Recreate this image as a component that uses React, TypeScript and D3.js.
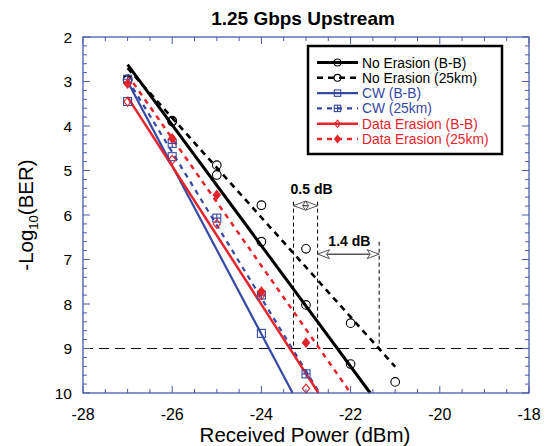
import React from 'react';
import * as d3 from 'd3';

// BER measurements, -log10(BER) vs received power (dBm)
const powerAxis = [-27, -26, -25, -24, -23, -22, -21];

const noErasionBB = [2.97, 3.9, 5.1, 6.6, 8.02, 9.35, null];
const noErasion25 = [2.95, 3.88, 4.88, 5.78, 6.76, 8.43, 9.75];
const cwBB = [3.45, 4.69, null, 8.66, null, null, null];
const cw25 = [2.95, 4.39, 6.07, 7.8, 9.57, null, null];
const dataErasionBB = [3.45, 4.76, 6.2, 7.8, 9.9, null, null];
const dataErasion25 = [3.05, 4.28, 5.55, 7.72, 8.87, null, null];

// fitted lines: [x0, y0, x1, y1]
const noErasionBBFit = [-27, 2.62, -21.56, 10];
const noErasion25Fit = [-27, 2.7, -21, 9.41];
const cwBBFit = [-27, 3.0, -23.3, 10];
const cw25Fit = [-27, 2.95, -22.7, 10];
const dataErasionBBFit = [-27, 3.35, -22.72, 10];
const dataErasion25Fit = [-27, 2.85, -22.0, 10];

const xTicks = [-28, -26, -24, -22, -20, -18];
const yTicks = [2, 3, 4, 5, 6, 7, 8, 9, 10];
const berThreshold = 9;

// power penalty annotations
const penaltyMarks = [-23.28, -22.74, -21.36];
const penaltyLabels = ['0.5 dB', '1.4 dB'];

const BLACK = '#000';
const BLUE = '#3548a3';
const RED = '#e5242b';
const AXIS = '#4a5aa8';
const FONT = '"Liberation Sans", Arial, Helvetica, sans-serif';

const series = [
  { name: 'No Erasion (B-B)', color: BLACK, dash: null, marker: 'circle', values: noErasionBB, fit: noErasionBBFit, width: 3 },
  { name: 'No Erasion (25km)', color: BLACK, dash: '6,5', marker: 'circle', values: noErasion25, fit: noErasion25Fit, width: 2.6 },
  { name: 'CW (B-B)', color: BLUE, dash: null, marker: 'square', values: cwBB, fit: cwBBFit, width: 2.2 },
  { name: 'CW (25km)', color: BLUE, dash: '5,5', marker: 'squarePlus', values: cw25, fit: cw25Fit, width: 2.2 },
  { name: 'Data Erasion (B-B)', color: RED, dash: null, marker: 'diamond', values: dataErasionBB, fit: dataErasionBBFit, width: 2.5 },
  { name: 'Data Erasion (25km)', color: RED, dash: '5,5', marker: 'diamondFilled', values: dataErasion25, fit: dataErasion25Fit, width: 2.5 },
];

const x = d3.scaleLinear().domain([-28, -18]).range([83, 529]);
const y = d3.scaleLinear().domain([2, 10]).range([37, 393]);

function Marker({ type, cx, cy, color, s = 1 }: { type: string; cx: number; cy: number; color: string; s?: number }) {
  if (type === 'circle') return <circle cx={cx} cy={cy} r={4.3 * s} fill="none" stroke={color} strokeWidth={1.1} />;
  if (type === 'square' || type === 'squarePlus') {
    const h = 4 * s;
    return (
      <g stroke={color} strokeWidth={1.1} fill="none">
        <rect x={cx - h} y={cy - h} width={2 * h} height={2 * h} />
        {type === 'squarePlus' && <path d={`M${cx - h},${cy}H${cx + h}M${cx},${cy - h}V${cy + h}`} />}
      </g>
    );
  }
  const h = 4.5 * s;
  const d = `M${cx},${cy - h}L${cx + h * 0.8},${cy}L${cx},${cy + h}L${cx - h * 0.8},${cy}Z`;
  return <path d={d} fill={type === 'diamondFilled' ? color : 'none'} stroke={color} strokeWidth={1.1} />;
}

function DoubleArrow({ x1, x2, yy }: { x1: number; x2: number; yy: number }) {
  const hl = 12, hw = 4.5;
  return (
    <g stroke="#555" fill="white" strokeWidth={1}>
      <line x1={x1} x2={x2} y1={yy} y2={yy} strokeWidth={1.5} />
      <path d={`M${x1},${yy}L${x1 + hl},${yy - hw}L${x1 + hl - 3},${yy}L${x1 + hl},${yy + hw}Z`} />
      <path d={`M${x2},${yy}L${x2 - hl},${yy - hw}L${x2 - hl + 3},${yy}L${x2 - hl},${yy + hw}Z`} />
    </g>
  );
}

export default function App() {
  const [x0, x1] = x.range();
  const [y0, y1] = y.range();
  const xMinor = d3.range(-28, -17.99, 0.5);
  const yMinor = d3.range(2, 10.01, 0.2);

  const legendX = 308, legendY = 46;
  const rowH = 15.3;

  return (
    <svg width={547} height={446} style={{ position: 'absolute', left: 0, top: 0, background: 'white' }} fontFamily={FONT}>
      <text x={303} y={25} textAnchor="middle" fontSize={19} fontWeight="bold">1.25 Gbps Upstream</text>

      {/* threshold */}
      <line x1={x0} x2={x1} y1={y(berThreshold)} y2={y(berThreshold)} stroke="#000" strokeWidth={1} strokeDasharray="10,6" />

      {/* penalty guides */}
      <g stroke="#000" strokeWidth={1} strokeDasharray="4,3">
        <line x1={x(penaltyMarks[0])} x2={x(penaltyMarks[0])} y1={y(5.7)} y2={y(berThreshold)} />
        <line x1={x(penaltyMarks[1])} x2={x(penaltyMarks[1])} y1={y(5.7)} y2={y(berThreshold)} />
        <line x1={x(penaltyMarks[2])} x2={x(penaltyMarks[2])} y1={y(6.6)} y2={y(berThreshold)} />
      </g>
      <DoubleArrow x1={x(penaltyMarks[0])} x2={x(penaltyMarks[1])} yy={y(5.79)} />
      <DoubleArrow x1={x(penaltyMarks[1])} x2={x(penaltyMarks[2])} yy={y(6.88)} />
      <text x={x((penaltyMarks[0] + penaltyMarks[1]) / 2) + 6} y={y(5.53)} textAnchor="middle" fontSize={14} fontWeight="bold">{penaltyLabels[0]}</text>
      <text x={x((penaltyMarks[1] + penaltyMarks[2]) / 2) + 1} y={y(6.7)} textAnchor="middle" fontSize={14} fontWeight="bold">{penaltyLabels[1]}</text>

      {/* fitted lines */}
      {series.map((s) => (
        <line key={s.name + 'fit'} x1={x(s.fit[0])} y1={y(s.fit[1])} x2={x(s.fit[2])} y2={y(s.fit[3])}
          stroke={s.color} strokeWidth={s.width} strokeDasharray={s.dash ?? undefined} />
      ))}

      {/* markers */}
      {series.map((s) => (
        <g key={s.name + 'pts'}>
          {s.values.map((v, i) => v == null ? null : (
            <Marker key={i} type={s.marker} cx={x(powerAxis[i])} cy={y(v)} color={s.color} />
          ))}
        </g>
      ))}

      {/* frame & ticks */}
      <rect x={x0} y={y0} width={x1 - x0} height={y1 - y0} fill="none" stroke={AXIS} strokeWidth={1.3} />
      <g stroke={AXIS} strokeWidth={1}>
        {xMinor.map((t) => {
          const major = xTicks.some((m) => Math.abs(m - t) < 1e-6);
          const len = major ? 7 : 4;
          return (
            <g key={'xt' + t}>
              <line x1={x(t)} x2={x(t)} y1={y1} y2={y1 - len} />
              <line x1={x(t)} x2={x(t)} y1={y0} y2={y0 + len} />
            </g>
          );
        })}
        {yMinor.map((t) => {
          const major = Math.abs(t - Math.round(t)) < 1e-6;
          const len = major ? 7 : 4;
          return (
            <g key={'yt' + t}>
              <line x1={x0} x2={x0 + len} y1={y(t)} y2={y(t)} />
              <line x1={x1} x2={x1 - len} y1={y(t)} y2={y(t)} />
            </g>
          );
        })}
      </g>

      {/* tick labels */}
      {xTicks.map((t) => (
        <text key={'xl' + t} x={x(t)} y={y1 + 27} textAnchor="middle" fontSize={16}>{t}</text>
      ))}
      {yTicks.map((t) => (
        <text key={'yl' + t} x={x0 - 11} y={y(t) + 5.5} textAnchor="end" fontSize={15.5}>{t}</text>
      ))}

      {/* axis titles */}
      <text x={305} y={442} textAnchor="middle" fontSize={20.5}>Received Power (dBm)</text>
      <text transform={`translate(33,${(y0 + y1) / 2}) rotate(-90)`} textAnchor="middle" fontSize={20.5}>
        -Log<tspan fontSize={13} dy={5}>10</tspan><tspan dy={-5}>(BER)</tspan>
      </text>

      {/* legend */}
      <rect x={legendX} y={legendY} width={194} height={108} fill="white" stroke="#000" strokeWidth={2.5} />
      {series.map((s, i) => {
        const yy = legendY + 16.5 + i * rowH;
        return (
          <g key={s.name + 'lg'}>
            <line x1={legendX + 9} x2={legendX + 50} y1={yy} y2={yy} stroke={s.color} strokeWidth={s.width} strokeDasharray={s.dash ?? undefined} />
            <Marker type={s.marker} cx={legendX + 29.5} cy={yy} color={s.color} s={0.8} />
            <text x={legendX + 54} y={yy + 5} fontSize={13.8} fill={s.color}>{s.name}</text>
          </g>
        );
      })}
    </svg>
  );
}
